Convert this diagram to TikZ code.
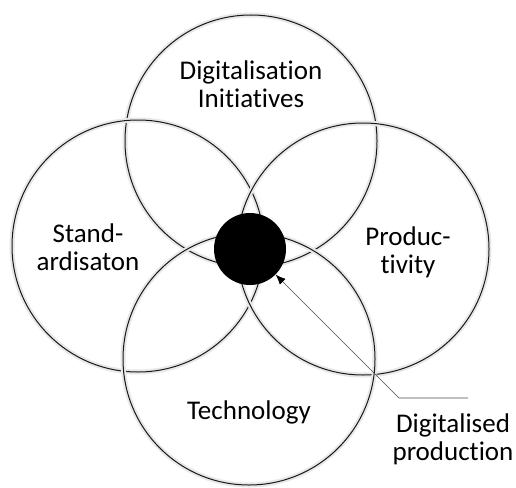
\documentclass[tikz,border=0pt]{standalone}
\usepackage{fontspec}
\setmainfont{Carlito}[Ligatures={NoCommon}]
\usetikzlibrary{arrows.meta}

\begin{document}
\begin{tikzpicture}[x=1pt, y=-1pt,
    ring/.style={circle, draw=black!90, line width=1pt, minimum size=252pt, inner sep=0pt,
                 preaction={draw=black!9, line width=5pt}},
    txt/.style={align=center, font=\fontsize{27}{28}\selectfont, inner sep=0pt}]
    \useasboundingbox[fill=white] (0,0) rectangle (516,487);

    \node[ring] (init) at (251,141) {};
    \node[ring] (stand) at (138,246) {};
    \node[ring] (prod) at (363,249) {};
    \node[ring] (tech) at (249,359) {};
    \node[circle, fill=black, minimum size=72pt, inner sep=0pt] (core) at (250,249) {};

    \node[txt] at (251,84) {Digitalisation\\Initiatives};
    \node[txt] at (88,247) {Stand-\\ardisaton};
    \node[txt] at (408,252) {Produc-\\tivity};
    \node[txt] at (249,412) {Technology};
    \node[txt] (label) at (453,439) {Digitalised\\production};

    \coordinate (tail) at (468,398);
    \coordinate (kink) at (399,398);
    \draw[black!70, line width=0.6pt, -{Latex[length=10pt, width=8pt, black]}] (tail) -- (kink) -- (core);
\end{tikzpicture}
\end{document}
